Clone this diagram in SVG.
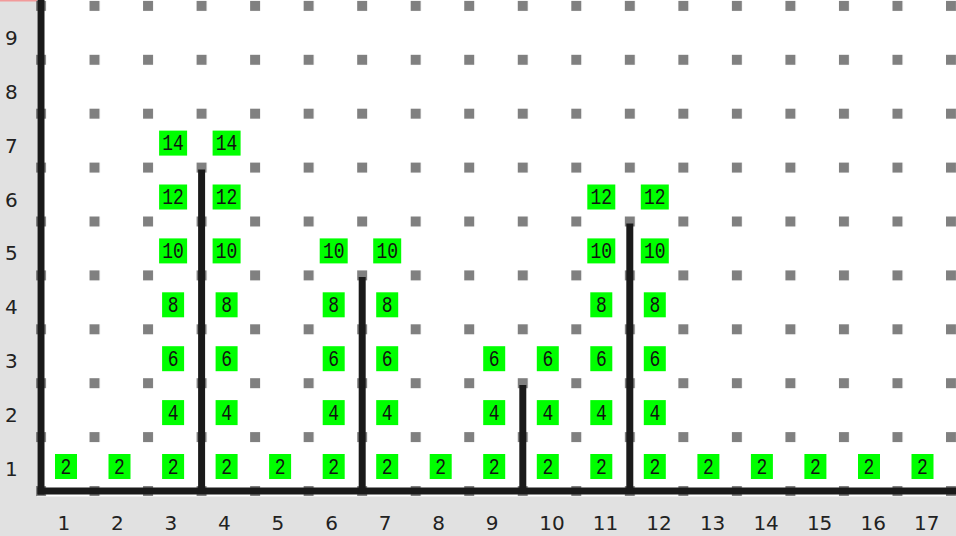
<svg xmlns="http://www.w3.org/2000/svg" width="956" height="536" viewBox="0 0 956 536">
<defs>
<style>
.panel{fill:#e1e1e1}
.wall{stroke:#1a1a1a;stroke-width:7;fill:none}
.box{fill:#00ff00}
.bt{font-family:"Liberation Mono",monospace;font-size:18px;fill:#111;text-anchor:middle}
.lab{font-family:"DejaVu Sans",sans-serif;font-size:20px;fill:#222}
</style>
<pattern id="dots" x="36" y="0.9" width="53.53" height="53.9" patternUnits="userSpaceOnUse">
<rect width="10" height="10" fill="#808080"/>
</pattern>
</defs>
<rect width="956" height="536" fill="#ffffff"/>
<rect class="panel" x="0" y="0" width="37" height="536"/>
<rect class="panel" x="0" y="496.5" width="956" height="40"/>
<rect x="0" y="0" width="37" height="1.5" fill="#f29a9a"/>
<rect id="grid-dots" x="36" y="0" width="920" height="497" fill="url(#dots)"/>
<g id="connectors">
<line class="wall" x1="41" y1="0" x2="41" y2="494.5"/>
<line class="wall" x1="37.5" y1="491" x2="956" y2="491"/>
<line class="wall" x1="201.6" y1="169.5" x2="201.6" y2="491"/>
<line class="wall" x1="362.2" y1="277" x2="362.2" y2="491"/>
<line class="wall" x1="522.8" y1="385" x2="522.8" y2="491"/>
<line class="wall" x1="629.8" y1="223.5" x2="629.8" y2="491"/>
</g>
<g id="row-labels" class="lab">
<text x="5" y="476">1</text>
<text x="5" y="422.1">2</text>
<text x="5" y="368.2">3</text>
<text x="5" y="314.3">4</text>
<text x="5" y="260.4">5</text>
<text x="5" y="206.5">6</text>
<text x="5" y="152.6">7</text>
<text x="5" y="98.7">8</text>
<text x="5" y="44.8">9</text>
</g>
<g id="col-labels" class="lab">
<text x="57.5" y="530">1</text>
<text x="111" y="530">2</text>
<text x="164.6" y="530">3</text>
<text x="218.1" y="530">4</text>
<text x="271.6" y="530">5</text>
<text x="325.2" y="530">6</text>
<text x="378.7" y="530">7</text>
<text x="432.2" y="530">8</text>
<text x="485.7" y="530">9</text>
<text x="539.3" y="530">10</text>
<text x="592.8" y="530">11</text>
<text x="646.3" y="530">12</text>
<text x="699.9" y="530">13</text>
<text x="753.4" y="530">14</text>
<text x="806.9" y="530">15</text>
<text x="860.5" y="530">16</text>
<text x="914" y="530">17</text>
</g>
<g id="col1"><rect class="box" x="55" y="454" width="22" height="25"/><text class="bt" transform="translate(66,466.5) scale(1,1.25)" y="5.6">2</text></g>
<g id="col2"><rect class="box" x="108.5" y="454" width="22" height="25"/><text class="bt" transform="translate(119.5,466.5) scale(1,1.25)" y="5.6">2</text></g>
<g id="col3">
<rect class="box" x="162.1" y="454" width="22" height="25"/><text class="bt" transform="translate(173.1,466.5) scale(1,1.25)" y="5.6">2</text>
<rect class="box" x="162.1" y="400.1" width="22" height="25"/><text class="bt" transform="translate(173.1,412.6) scale(1,1.25)" y="5.6">4</text>
<rect class="box" x="162.1" y="346.2" width="22" height="25"/><text class="bt" transform="translate(173.1,358.7) scale(1,1.25)" y="5.6">6</text>
<rect class="box" x="162.1" y="292.3" width="22" height="25"/><text class="bt" transform="translate(173.1,304.8) scale(1,1.25)" y="5.6">8</text>
<rect class="box" x="159.1" y="238.4" width="28" height="25"/><text class="bt" transform="translate(173.1,250.9) scale(1,1.25)" y="5.6">10</text>
<rect class="box" x="159.1" y="184.5" width="28" height="25"/><text class="bt" transform="translate(173.1,197) scale(1,1.25)" y="5.6">12</text>
<rect class="box" x="159.1" y="130.6" width="28" height="25"/><text class="bt" transform="translate(173.1,143.1) scale(1,1.25)" y="5.6">14</text>
</g>
<g id="col4">
<rect class="box" x="215.6" y="454" width="22" height="25"/><text class="bt" transform="translate(226.6,466.5) scale(1,1.25)" y="5.6">2</text>
<rect class="box" x="215.6" y="400.1" width="22" height="25"/><text class="bt" transform="translate(226.6,412.6) scale(1,1.25)" y="5.6">4</text>
<rect class="box" x="215.6" y="346.2" width="22" height="25"/><text class="bt" transform="translate(226.6,358.7) scale(1,1.25)" y="5.6">6</text>
<rect class="box" x="215.6" y="292.3" width="22" height="25"/><text class="bt" transform="translate(226.6,304.8) scale(1,1.25)" y="5.6">8</text>
<rect class="box" x="212.6" y="238.4" width="28" height="25"/><text class="bt" transform="translate(226.6,250.9) scale(1,1.25)" y="5.6">10</text>
<rect class="box" x="212.6" y="184.5" width="28" height="25"/><text class="bt" transform="translate(226.6,197) scale(1,1.25)" y="5.6">12</text>
<rect class="box" x="212.6" y="130.6" width="28" height="25"/><text class="bt" transform="translate(226.6,143.1) scale(1,1.25)" y="5.6">14</text>
</g>
<g id="col5"><rect class="box" x="269.1" y="454" width="22" height="25"/><text class="bt" transform="translate(280.1,466.5) scale(1,1.25)" y="5.6">2</text></g>
<g id="col6">
<rect class="box" x="322.7" y="454" width="22" height="25"/><text class="bt" transform="translate(333.7,466.5) scale(1,1.25)" y="5.6">2</text>
<rect class="box" x="322.7" y="400.1" width="22" height="25"/><text class="bt" transform="translate(333.7,412.6) scale(1,1.25)" y="5.6">4</text>
<rect class="box" x="322.7" y="346.2" width="22" height="25"/><text class="bt" transform="translate(333.7,358.7) scale(1,1.25)" y="5.6">6</text>
<rect class="box" x="322.7" y="292.3" width="22" height="25"/><text class="bt" transform="translate(333.7,304.8) scale(1,1.25)" y="5.6">8</text>
<rect class="box" x="319.7" y="238.4" width="28" height="25"/><text class="bt" transform="translate(333.7,250.9) scale(1,1.25)" y="5.6">10</text>
</g>
<g id="col7">
<rect class="box" x="376.2" y="454" width="22" height="25"/><text class="bt" transform="translate(387.2,466.5) scale(1,1.25)" y="5.6">2</text>
<rect class="box" x="376.2" y="400.1" width="22" height="25"/><text class="bt" transform="translate(387.2,412.6) scale(1,1.25)" y="5.6">4</text>
<rect class="box" x="376.2" y="346.2" width="22" height="25"/><text class="bt" transform="translate(387.2,358.7) scale(1,1.25)" y="5.6">6</text>
<rect class="box" x="376.2" y="292.3" width="22" height="25"/><text class="bt" transform="translate(387.2,304.8) scale(1,1.25)" y="5.6">8</text>
<rect class="box" x="373.2" y="238.4" width="28" height="25"/><text class="bt" transform="translate(387.2,250.9) scale(1,1.25)" y="5.6">10</text>
</g>
<g id="col8"><rect class="box" x="429.7" y="454" width="22" height="25"/><text class="bt" transform="translate(440.7,466.5) scale(1,1.25)" y="5.6">2</text></g>
<g id="col9">
<rect class="box" x="483.2" y="454" width="22" height="25"/><text class="bt" transform="translate(494.2,466.5) scale(1,1.25)" y="5.6">2</text>
<rect class="box" x="483.2" y="400.1" width="22" height="25"/><text class="bt" transform="translate(494.2,412.6) scale(1,1.25)" y="5.6">4</text>
<rect class="box" x="483.2" y="346.2" width="22" height="25"/><text class="bt" transform="translate(494.2,358.7) scale(1,1.25)" y="5.6">6</text>
</g>
<g id="col10">
<rect class="box" x="536.8" y="454" width="22" height="25"/><text class="bt" transform="translate(547.8,466.5) scale(1,1.25)" y="5.6">2</text>
<rect class="box" x="536.8" y="400.1" width="22" height="25"/><text class="bt" transform="translate(547.8,412.6) scale(1,1.25)" y="5.6">4</text>
<rect class="box" x="536.8" y="346.2" width="22" height="25"/><text class="bt" transform="translate(547.8,358.7) scale(1,1.25)" y="5.6">6</text>
</g>
<g id="col11">
<rect class="box" x="590.3" y="454" width="22" height="25"/><text class="bt" transform="translate(601.3,466.5) scale(1,1.25)" y="5.6">2</text>
<rect class="box" x="590.3" y="400.1" width="22" height="25"/><text class="bt" transform="translate(601.3,412.6) scale(1,1.25)" y="5.6">4</text>
<rect class="box" x="590.3" y="346.2" width="22" height="25"/><text class="bt" transform="translate(601.3,358.7) scale(1,1.25)" y="5.6">6</text>
<rect class="box" x="590.3" y="292.3" width="22" height="25"/><text class="bt" transform="translate(601.3,304.8) scale(1,1.25)" y="5.6">8</text>
<rect class="box" x="587.3" y="238.4" width="28" height="25"/><text class="bt" transform="translate(601.3,250.9) scale(1,1.25)" y="5.6">10</text>
<rect class="box" x="587.3" y="184.5" width="28" height="25"/><text class="bt" transform="translate(601.3,197) scale(1,1.25)" y="5.6">12</text>
</g>
<g id="col12">
<rect class="box" x="643.8" y="454" width="22" height="25"/><text class="bt" transform="translate(654.8,466.5) scale(1,1.25)" y="5.6">2</text>
<rect class="box" x="643.8" y="400.1" width="22" height="25"/><text class="bt" transform="translate(654.8,412.6) scale(1,1.25)" y="5.6">4</text>
<rect class="box" x="643.8" y="346.2" width="22" height="25"/><text class="bt" transform="translate(654.8,358.7) scale(1,1.25)" y="5.6">6</text>
<rect class="box" x="643.8" y="292.3" width="22" height="25"/><text class="bt" transform="translate(654.8,304.8) scale(1,1.25)" y="5.6">8</text>
<rect class="box" x="640.8" y="238.4" width="28" height="25"/><text class="bt" transform="translate(654.8,250.9) scale(1,1.25)" y="5.6">10</text>
<rect class="box" x="640.8" y="184.5" width="28" height="25"/><text class="bt" transform="translate(654.8,197) scale(1,1.25)" y="5.6">12</text>
</g>
<g id="col13"><rect class="box" x="697.4" y="454" width="22" height="25"/><text class="bt" transform="translate(708.4,466.5) scale(1,1.25)" y="5.6">2</text></g>
<g id="col14"><rect class="box" x="750.9" y="454" width="22" height="25"/><text class="bt" transform="translate(761.9,466.5) scale(1,1.25)" y="5.6">2</text></g>
<g id="col15"><rect class="box" x="804.4" y="454" width="22" height="25"/><text class="bt" transform="translate(815.4,466.5) scale(1,1.25)" y="5.6">2</text></g>
<g id="col16"><rect class="box" x="858" y="454" width="22" height="25"/><text class="bt" transform="translate(869,466.5) scale(1,1.25)" y="5.6">2</text></g>
<g id="col17"><rect class="box" x="911.5" y="454" width="22" height="25"/><text class="bt" transform="translate(922.5,466.5) scale(1,1.25)" y="5.6">2</text></g>
</svg>
